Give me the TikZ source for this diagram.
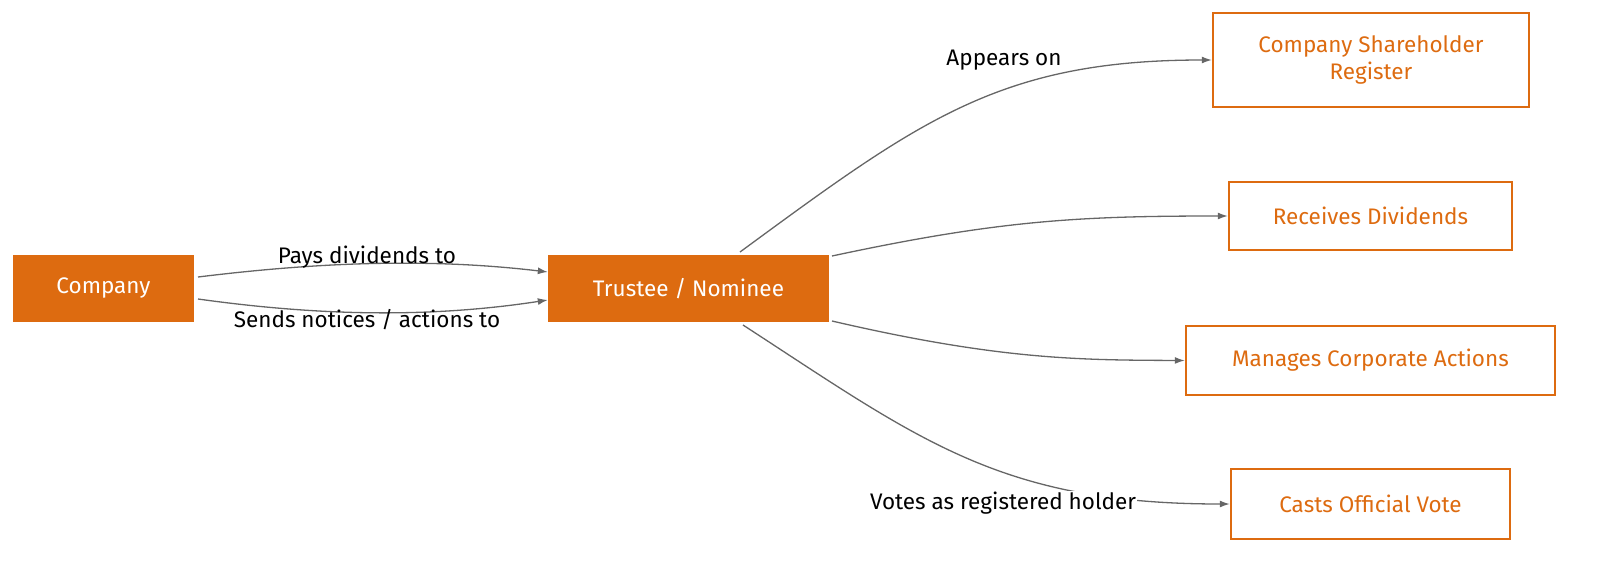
\documentclass[tikz,border=0pt]{standalone}
\usepackage{fontspec}
\setmainfont{Fira Sans}
\usetikzlibrary{arrows.meta}
\definecolor{org}{HTML}{DD6B10}
\definecolor{edge}{HTML}{666666}
\begin{document}
\begin{tikzpicture}[x=1pt,y=-1pt,
  font=\fontsize{22.5}{27}\selectfont,
  filled/.style={fill=org,text=white,minimum height=67pt,inner sep=0pt},
  outl/.style={draw=org,line width=2.5pt,text=org,inner sep=0pt,align=center},
  arr/.style={draw=edge,line width=1.3pt,-{Latex[length=10pt,width=7pt]}},
  lbl/.style={fill=white,inner sep=1pt,text=black}]
\useasboundingbox (0,0) rectangle (1600,563);
\node[filled,minimum width=181pt] (co) at (103.5,288.5) {Company};
\node[filled,minimum width=281pt] (tr) at (688.5,288.5) {Trustee / Nominee};
\node[outl,minimum width=316pt,minimum height=94pt] (reg) at (1371,60) {Company Shareholder\\Register};
\node[outl,minimum width=283pt,minimum height=68pt] (div) at (1370.5,216) {Receives Dividends};
\node[outl,minimum width=369pt,minimum height=69pt] (corp) at (1370.5,360.5) {Manages Corporate Actions};
\node[outl,minimum width=279pt,minimum height=70pt] (vote) at (1370.5,504) {Casts Official Vote};
\coordinate (c1) at (198,277); \coordinate (c2) at (198,299);
\coordinate (t1) at (740,252); \coordinate (t2) at (832,256);
\coordinate (t3) at (832,321); \coordinate (t4) at (743,325);
\draw[arr] (c1) .. controls (320,262) and (430,258) .. (tr.west |- 0,272);
\draw[arr] (c2) .. controls (320,316) and (430,318) .. (tr.west |- 0,300);
\node[lbl,fill=none] (l1) at (367,257) {Pays dividends to};
\node[lbl,fill=none] (l2) at (367,320) {Sends notices / actions to};
\draw[arr] (t1) .. controls (920,120) and (1000,60) .. (reg.west);
\draw[arr] (t2) .. controls (1000,220) and (1080,216) .. (div.west);
\draw[arr] (t3) .. controls (1000,360) and (1080,360) .. (corp.west);
\draw[arr] (t4) .. controls (920,440) and (1000,504) .. (vote.west);
\node[lbl] (l3) at (1004,60) {Appears on};
\node[lbl] (l4) at (1003,503) {Votes as registered holder};
\end{tikzpicture}
\end{document}
